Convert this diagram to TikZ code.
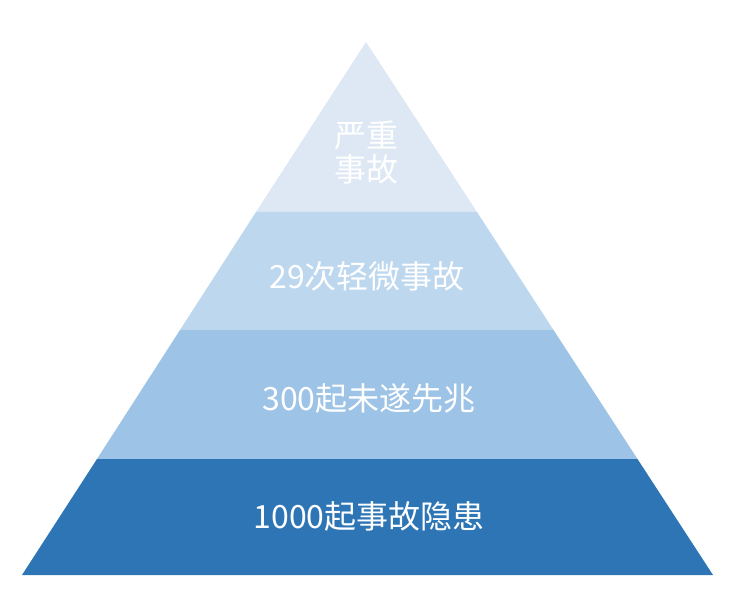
\documentclass[tikz,border=0pt]{standalone}
\usepackage{fontspec}
\newfontfamily\cjk{Noto Sans CJK SC}
\usetikzlibrary{calc}
\definecolor{layerA}{HTML}{DDE8F4}
\definecolor{layerB}{HTML}{BDD7EE}
\definecolor{layerC}{HTML}{9DC3E6}
\definecolor{layerD}{HTML}{2E75B6}
\begin{document}
\begin{tikzpicture}[x=1pt,y=-1pt]
    \tikzstyle{label}=[text=white, font=\cjk\fontsize{32}{38}\selectfont, align=center, inner sep=0pt]
    \useasboundingbox (0,0) rectangle (739,604);
    \fill[layerA] (366,42) -- (477,212) -- (256,212) -- cycle;
    \fill[layerB] (256,212) -- (477,212) -- (553.5,330) -- (180,330) -- cycle;
    \fill[layerC] (180,330) -- (553.5,330) -- (637.5,459) -- (97,459) -- cycle;
    \fill[layerD] (97,459) -- (637.5,459) -- (713,575) -- (22,575) -- cycle;
    \node[label] (severe) at (366,152) {严重\\[-4pt]事故};
    \node[label] (minor) at (367,276) {29次轻微事故};
    \node[label] (nearmiss) at (369,398) {300起未遂先兆};
    \node[label] (hazard) at (369,516) {1000起事故隐患};
\end{tikzpicture}
\end{document}
